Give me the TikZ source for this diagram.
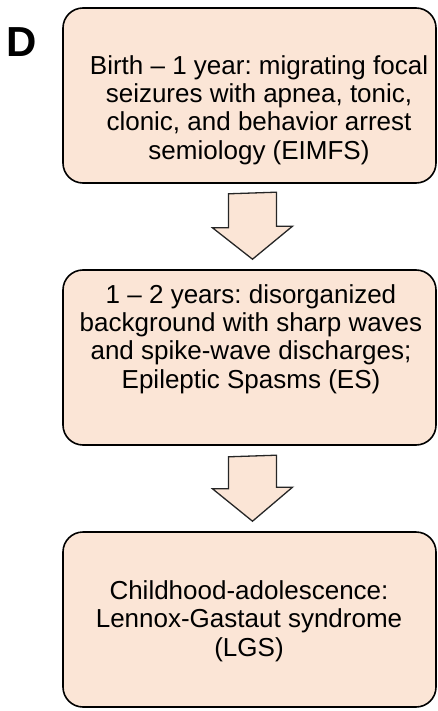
\documentclass[tikz,border=0pt]{standalone}
\usepackage{fontspec}
\setmainfont{Liberation Sans}
\usepackage{tikz}
\usetikzlibrary{calc}
\definecolor{peach}{HTML}{FBE5D6}
\frenchspacing

\begin{document}
\begin{tikzpicture}[
    x=1pt, y=-1pt,
    font=\fontsize{26}{28.3}\selectfont,
    stage/.style = {draw, line width=1.6pt, fill=peach, rounded corners=20pt,
                    minimum width=373pt, minimum height=175pt, inner sep=0pt},
    txt/.style   = {align=center, inner sep=0pt},
    flow/.style  = {draw=black!85, line width=1.3pt, fill=peach, line join=miter},
    panel/.style = {font=\fontsize{42}{42}\selectfont\bfseries, inner sep=0pt}
]
\useasboundingbox (0,0) rectangle (438,711);

% ---------------- panel letter ----------------
\node[panel] (letter) at (21.5,42.5) {D};

% ---------------- stages ----------------
\node[stage] (birth)  at (249.5, 95.5) {};
\node[stage] (infant) at (249.5,357.5) {};
\node[stage] (child)  at (249.5,619.5) {};

\node[txt] (birthtxt)  at (259,110) {Birth -- 1 year: migrating focal\\
    seizures with apnea, tonic,\\ clonic, and behavior arrest\\ semiology (EIMFS)};
\node[txt] (infanttxt) at (251,339) {1 -- 2 years: disorganized\\
    background with sharp waves\\ and spike-wave discharges;\\ Epileptic Spasms (ES)};
\node[txt] (childtxt)  at (249,621) {Childhood-adolescence:\\
    Lennox-Gastaut syndrome\\ (LGS)};

% ---------------- block arrows ----------------
\draw[flow] ([xshift=-21pt,yshift=-10pt]birth.south) -- ++(0,34) -- ++(-16,0)
            -- ([xshift=3pt,yshift=10pt]infant.north) -- ++(40,-33) -- ++(-16,0)
            -- ++(0,-34) -- cycle;
\draw[flow] ([xshift=-21pt,yshift=-11pt]infant.south) -- ++(0,32) -- ++(-16,0)
            -- ([xshift=3pt,yshift=10pt]child.north) -- ++(40,-34) -- ++(-16,0)
            -- ++(0,-32) -- cycle;

\end{tikzpicture}
\end{document}
